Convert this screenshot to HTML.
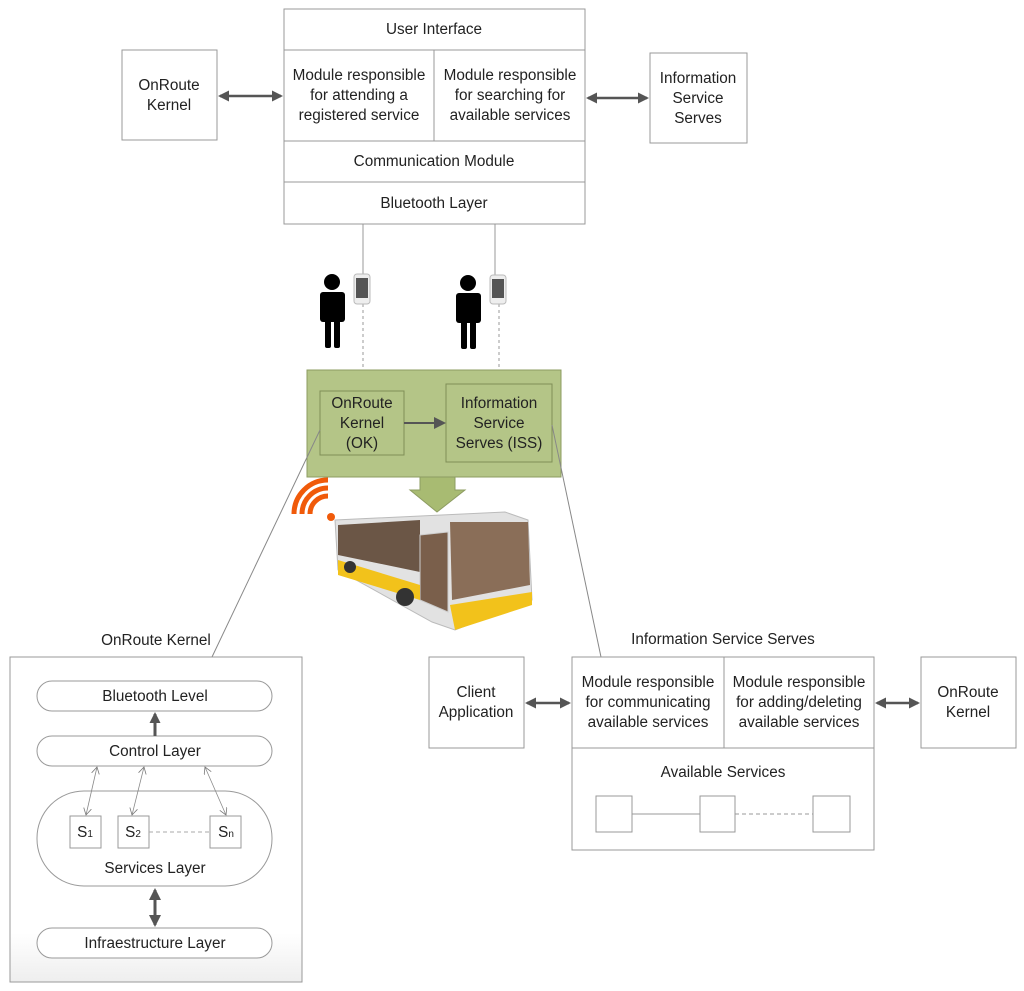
<!DOCTYPE html>
<html><head><meta charset="utf-8"><style>
html,body{margin:0;padding:0;background:#fff}
svg{display:block}
text{font-family:"Liberation Sans",sans-serif;font-size:15.3px;fill:#222;text-anchor:middle}
</style></head><body>
<svg width="1024" height="991" viewBox="0 0 1024 991" xmlns="http://www.w3.org/2000/svg">
<defs>
<marker id="ah" markerWidth="11" markerHeight="11" refX="9" refY="5.5" orient="auto-start-reverse" markerUnits="userSpaceOnUse"><path d="M0,0 L11,5.5 L0,11 z" fill="#555"/></marker>
<marker id="ahb" markerWidth="12" markerHeight="12" refX="10" refY="6" orient="auto-start-reverse" markerUnits="userSpaceOnUse"><path d="M0,0 L12,6 L0,12 z" fill="#555"/></marker>
<marker id="aht" markerWidth="8" markerHeight="8" refX="7" refY="4" orient="auto-start-reverse" markerUnits="userSpaceOnUse"><path d="M0,0 L7,4 L0,8" fill="none" stroke="#777" stroke-width="0.8"/></marker>
<linearGradient id="lp" x1="0" y1="0" x2="0" y2="1"><stop offset="0.85" stop-color="#fff"/><stop offset="1" stop-color="#eee"/></linearGradient>
</defs>
<g fill="none" stroke="#999" stroke-width="1">
<rect x="284" y="9" width="301" height="215" fill="#fff"/>
<line x1="284" y1="50" x2="585" y2="50"/><line x1="284" y1="141" x2="585" y2="141"/><line x1="284" y1="182" x2="585" y2="182"/><line x1="434" y1="50" x2="434" y2="141"/>
<rect x="122" y="50" width="95" height="90"/>
<rect x="650" y="53" width="97" height="90"/>
</g>
<text x="434" y="34">User Interface</text>
<text x="359" y="80">Module responsible</text><text x="359" y="100">for attending a</text><text x="359" y="120">registered service</text>
<text x="510" y="80">Module responsible</text><text x="510" y="100">for searching for</text><text x="510" y="120">available services</text>
<text x="434" y="166">Communication Module</text>
<text x="434" y="208">Bluetooth Layer</text>
<text x="169" y="90">OnRoute</text><text x="169" y="110">Kernel</text>
<text x="698" y="83">Information</text><text x="698" y="103">Service</text><text x="698" y="123">Serves</text>
<line x1="220" y1="96" x2="281" y2="96" stroke="#555" stroke-width="2.5" marker-start="url(#ah)" marker-end="url(#ah)"/>
<line x1="588" y1="98" x2="647" y2="98" stroke="#555" stroke-width="2.5" marker-start="url(#ah)" marker-end="url(#ah)"/>
<g stroke="#999"><line x1="363" y1="224" x2="363" y2="274"/><line x1="495" y1="224" x2="495" y2="275"/>
<line x1="363" y1="304" x2="363" y2="370" stroke-dasharray="3,3"/><line x1="499" y1="304" x2="499" y2="370" stroke-dasharray="3,3"/></g>
<rect x="354" y="274" width="16" height="30" rx="3" fill="#eee" stroke="#bbb"/><rect x="356" y="278" width="12" height="20" fill="#555"/>
<rect x="490" y="275" width="16" height="29" rx="3" fill="#eee" stroke="#bbb"/><rect x="492" y="279" width="12" height="19" fill="#555"/>
<g fill="#000">
<circle cx="332" cy="282" r="8"/><rect x="320" y="292" width="25" height="30" rx="3"/><rect x="325" y="315" width="6" height="33" rx="2"/><rect x="334" y="315" width="6" height="33" rx="2"/>
<circle cx="468" cy="283" r="8"/><rect x="456" y="293" width="25" height="30" rx="3"/><rect x="461" y="316" width="6" height="33" rx="2"/><rect x="470" y="316" width="6" height="33" rx="2"/>
</g>
<rect x="307" y="370" width="254" height="107" fill="#b4c587" stroke="#8d9c62"/>
<rect x="320" y="391" width="84" height="64" fill="#b4c587" stroke="#7f8e57"/>
<rect x="446" y="384" width="106" height="78" fill="#b4c587" stroke="#7f8e57"/>
<text x="362" y="408">OnRoute</text><text x="362" y="428">Kernel</text><text x="362" y="448">(OK)</text>
<text x="499" y="408">Information</text><text x="499" y="428">Service</text><text x="499" y="448">Serves (ISS)</text>
<line x1="404" y1="423" x2="444" y2="423" stroke="#555" stroke-width="2" marker-end="url(#ahb)"/>
<path d="M420,477 L455,477 L455,490 L465,490 L437,512 L410,490 L420,490 z" fill="#a8bb72" stroke="#8d9c62"/>
<g fill="none" stroke="#f05a0a" stroke-width="5" stroke-linecap="butt">
<path d="M310,514 A18,18 0 0 1 328,496"/><path d="M302,514 A26,26 0 0 1 328,488"/><path d="M294,514 A34,34 0 0 1 328,480"/>
</g>
<circle cx="331" cy="517" r="4" fill="#f05a0a"/>
<path d="M335,520 L505,512 L528,520 L532,600 L455,630 L432,622 L338,570 z" fill="#e2e2e2" stroke="#bbb"/>
<path d="M338,525 L420,520 L420,572 L338,555 z" fill="#6b5646"/>
<path d="M450,522 L528,522 L530,585 L452,600 z" fill="#8a6e58"/>
<path d="M420,535 L448,532 L448,612 L420,600 z" fill="#7a5f4b" stroke="#ccc"/>
<path d="M338,560 L420,585 L420,600 L338,575 z" fill="#f2c21b"/>
<path d="M450,605 L532,592 L532,605 L455,630 z" fill="#f2c21b"/>
<circle cx="405" cy="597" r="9" fill="#333"/><circle cx="350" cy="567" r="6" fill="#333"/>
<line x1="320" y1="430" x2="212" y2="657" stroke="#888"/>
<line x1="552" y1="425" x2="601" y2="657" stroke="#888"/>
<text x="156" y="645">OnRoute Kernel</text>
<rect x="10" y="657" width="292" height="325" fill="url(#lp)" stroke="#999"/>
<g fill="#fff" stroke="#999">
<rect x="37" y="681" width="235" height="30" rx="15"/>
<rect x="37" y="736" width="235" height="30" rx="15"/>
<rect x="37" y="791" width="235" height="95" rx="47"/>
<rect x="37" y="928" width="235" height="30" rx="15"/>
<rect x="70" y="816" width="31" height="32"/><rect x="118" y="816" width="31" height="32"/><rect x="210" y="816" width="31" height="32"/>
</g>
<text x="155" y="701">Bluetooth Level</text>
<text x="155" y="756">Control Layer</text>
<text x="155" y="873">Services Layer</text>
<text x="155" y="948">Infraestructure Layer</text>
<text x="85" y="837">S<tspan font-size="10">1</tspan></text><text x="133" y="837">S<tspan font-size="10">2</tspan></text><text x="226" y="837">S<tspan font-size="10">n</tspan></text>
<line x1="149" y1="832" x2="210" y2="832" stroke="#aaa" stroke-dasharray="4,3"/>
<line x1="155" y1="736" x2="155" y2="714" stroke="#555" stroke-width="3" marker-end="url(#ah)"/>
<line x1="155" y1="890" x2="155" y2="925" stroke="#555" stroke-width="3" marker-start="url(#ahb)" marker-end="url(#ahb)"/>
<g stroke="#888" stroke-width="0.8">
<line x1="97" y1="767" x2="86" y2="815" marker-start="url(#aht)" marker-end="url(#aht)"/>
<line x1="144" y1="767" x2="132" y2="815" marker-start="url(#aht)" marker-end="url(#aht)"/>
<line x1="205" y1="767" x2="226" y2="815" marker-start="url(#aht)" marker-end="url(#aht)"/>
</g>
<text x="723" y="644">Information Service Serves</text>
<g fill="none" stroke="#999">
<rect x="429" y="657" width="95" height="91"/>
<rect x="572" y="657" width="302" height="193"/>
<line x1="572" y1="748" x2="874" y2="748"/><line x1="724" y1="657" x2="724" y2="748"/>
<rect x="921" y="657" width="95" height="91"/>
<rect x="596" y="796" width="36" height="36"/><rect x="700" y="796" width="35" height="36"/><rect x="813" y="796" width="37" height="36"/>
<line x1="632" y1="814" x2="700" y2="814"/>
<line x1="735" y1="814" x2="813" y2="814" stroke-dasharray="4,3"/>
</g>
<text x="476" y="697">Client</text><text x="476" y="717">Application</text>
<text x="648" y="687">Module responsible</text><text x="648" y="707">for communicating</text><text x="648" y="727">available services</text>
<text x="799" y="687">Module responsible</text><text x="799" y="707">for adding/deleting</text><text x="799" y="727">available services</text>
<text x="968" y="697">OnRoute</text><text x="968" y="717">Kernel</text>
<text x="723" y="777">Available Services</text>
<line x1="527" y1="703" x2="569" y2="703" stroke="#555" stroke-width="2.5" marker-start="url(#ah)" marker-end="url(#ah)"/>
<line x1="877" y1="703" x2="918" y2="703" stroke="#555" stroke-width="2.5" marker-start="url(#ah)" marker-end="url(#ah)"/>
</svg>
</body></html>
